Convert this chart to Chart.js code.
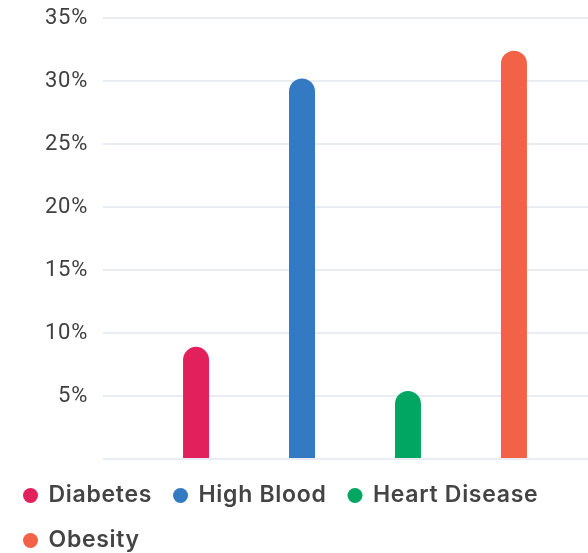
<!DOCTYPE html>
<html>
<head>
<meta charset="utf-8">
<script src="https://cdn.jsdelivr.net/npm/chart.js@4"></script>
<style>
  html, body { margin: 0; padding: 0; background: #fff; overflow: hidden; }
  #wrap { position: relative; width: 607px; height: 562px; }
</style>
</head>
<body>
<div id="wrap"><canvas id="chartMaladies"></canvas></div>
<script>
// données
var categories = ['Diabetes', 'High Blood', 'Heart Disease', 'Obesity'];
var valeurs = [8.9, 30.2, 5.4, 32.4];
var couleurs = ['#e2215c', '#347ac2', '#00a661', '#f26246'];
var yTicks = [0, 5, 10, 15, 20, 25, 30, 35];

var datasetsValue = [];
for (var i = 0; i < categories.length; i++) {
    datasetsValue.push({
        label: categories[i],
        data: [valeurs[i]],
        backgroundColor: couleurs[i],
        borderColor: couleurs[i],
        borderRadius: 13,
        borderSkipped: 'bottom',
        categoryPercentage: 0.841,
        barPercentage: 0.2453,
        maxBarThickness: 26
    });
}

// espacement des lettres (le canvas le remet à zéro quand il est redimensionné)
const espacement = {
    id: 'espacement',
    beforeUpdate: function (chart) { chart.ctx.letterSpacing = '0.7px'; },
    beforeDraw: function (chart) { chart.ctx.letterSpacing = '0.7px'; }
};

const ctx = document.getElementById('chartMaladies').getContext('2d');

const chartObj = new Chart(ctx, {
    type: 'bar',
    data: {
        labels: [''],
        datasets: datasetsValue
    },
    plugins: [espacement],
    options: {
        responsive: true,
        maintainAspectRatio: false,
        animation: false,
        layout: { padding: { top: 0, left: 2, right: 0, bottom: 0 } },
        plugins: {
            tooltip: { enabled: false },
            legend: {
                position: 'bottom',
                align: 'start',
                labels: {
                    usePointStyle: true,
                    pointStyle: 'circle',
                    boxWidth: 13,
                    boxHeight: 10.6,
                    padding: 22,
                    color: '#444444',
                    font: { family: 'Inter', size: 23, weight: '600' }
                }
            }
        },
        scales: {
            x: {
                display: true,
                grid: { display: false, drawTicks: false },
                border: { display: false },
                ticks: { display: false },
                afterFit: function (axis) { axis.height = 3; }
            },
            y: {
                min: 0,
                max: 35,
                border: { display: false },
                grid: { color: '#e9edf3', lineWidth: 2, drawTicks: false },
                afterFit: function (axis) {
                    axis.width = 101;
                    axis.paddingTop = 18; // ligne 35% en haut
                },
                afterBuildTicks: function (axis) {
                    axis.ticks = yTicks.map(function (v) { return { value: v }; });
                },
                ticks: {
                    padding: 15,
                    color: '#404040',
                    font: { family: 'Roboto', size: 22 },
                    callback: function (value) {
                        return value === 0 ? '' : value + '%'; // pas de 0%
                    }
                }
            }
        }
    }
});
</script>
</body>
</html>
